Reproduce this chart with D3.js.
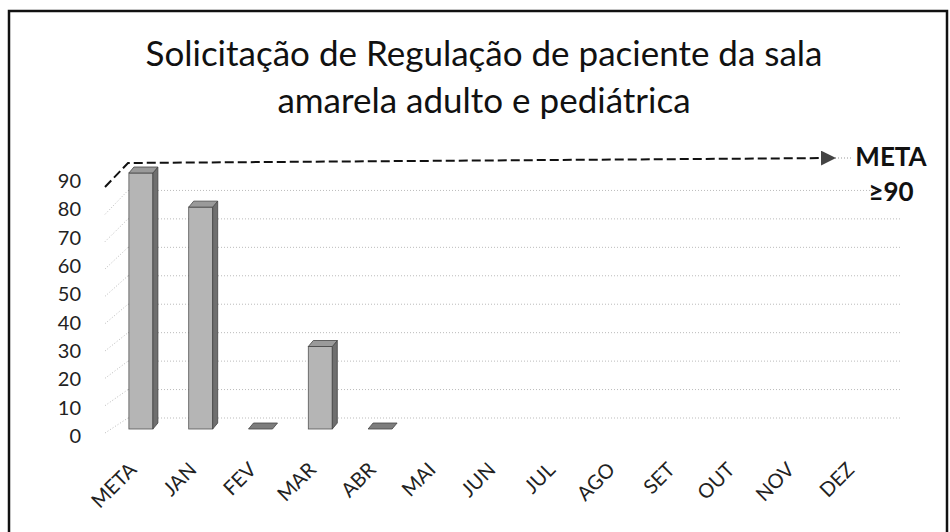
<!DOCTYPE html>
<html>
<head>
<meta charset="utf-8">
<script src="https://cdn.jsdelivr.net/npm/d3@7"></script>
<style>
  body { margin: 0; background: #fff; }
  svg { display: block; font-family: Lato, "Open Sans", sans-serif; }
</style>
</head>
<body>
<svg class="chart" width="950" height="532"></svg>
<script>
// chart data
var titleLines = ["Solicitação de Regulação de paciente da sala", "amarela adulto e pediátrica"];
var months = ["META", "JAN", "FEV", "MAR", "ABR", "MAI", "JUN", "JUL", "AGO", "SET", "OUT", "NOV", "DEZ"];
var values = [90, 78, 0, 29, 0, null, null, null, null, null, null, null, null];
var yTicks = [0, 10, 20, 30, 40, 50, 60, 70, 80, 90];
var metaValue = 90;
var metaLabel = ["META", "≥90"];

var svg = d3.select("svg.chart");

// frame
svg.append("rect")
    .attr("x", 9).attr("y", 11)
    .attr("width", 938).attr("height", 540)
    .attr("fill", "none")
    .attr("stroke", "#111")
    .attr("stroke-width", 2.5);

// title
svg.append("g").selectAll("text")
    .data(titleLines)
    .join("text")
    .attr("x", 484)
    .attr("y", (d, i) => 66 + i * 47)
    .attr("text-anchor", "middle")
    .style("font-size", "35px")
    .style("fill", "#111")
    .text(d => d);

// scales (3d look: front plane, back wall, bars in the middle)
var x = d3.scaleBand().domain(months).range([111, 888.4]).padding(0);
var yBack = d3.scaleLinear().domain([0, 90]).range([418, 162]);
var yFront = d3.scaleLinear().domain([0, 90]).range([433, 187]);
var yBar = d3.scaleLinear().domain([0, 90]).range([429, 173]);
var yLab = d3.scaleLinear().domain([0, 90]).range([436, 181]);

var wallLeft = 128, wallRight = 900, frontX = 105;
var barW = 24, dx = 5, dy = -6;

// back wall gridlines
svg.append("g").selectAll("line")
    .data(yTicks.filter(d => d !== metaValue))
    .join("line")
    .attr("x1", wallLeft).attr("x2", wallRight)
    .attr("y1", d => yBack(d)).attr("y2", d => yBack(d))
    .attr("stroke", "#bbb")
    .attr("stroke-width", 1)
    .style("stroke-dasharray", "1, 2");

// side wall diagonals
svg.append("g").selectAll("line")
    .data(yTicks.filter(d => d !== metaValue))
    .join("line")
    .attr("x1", frontX).attr("y1", d => yFront(d))
    .attr("x2", wallLeft).attr("y2", d => yBack(d))
    .attr("stroke", "#bbb")
    .attr("stroke-width", 1)
    .style("stroke-dasharray", "1, 2");

// y axis labels
var yAxis = svg.append("g")
    .attr("transform", "translate(81,0)")
    .call(d3.axisLeft(yLab).tickValues(yTicks).tickSize(0).tickPadding(0));
yAxis.select(".domain").remove();
yAxis.selectAll("text")
    .style("font-size", "20px")
    .style("font-family", "Lato, 'Open Sans', sans-serif")
    .style("fill", "#222");

// meta line: dashed top edge + arrow
svg.append("defs").append("marker")
    .attr("id", "arrow")
    .attr("viewBox", "0 0 10 10")
    .attr("refX", 10).attr("refY", 5)
    .attr("markerWidth", 15).attr("markerHeight", 15)
    .attr("markerUnits", "userSpaceOnUse")
    .attr("orient", "auto")
    .append("path")
    .attr("d", "M0,0 L10,5 L0,10 Z")
    .attr("fill", "#444");

svg.append("polyline")
    .attr("points", [[frontX, yFront(metaValue)], [wallLeft, yBack(metaValue) + 1], [836, yBack(metaValue) - 4]].join(" "))
    .attr("fill", "none")
    .attr("stroke", "#111")
    .attr("stroke-width", 2)
    .style("stroke-dasharray", "9, 4")
    .attr("marker-end", "url(#arrow)");

svg.append("line")
    .attr("x1", 838).attr("x2", 852)
    .attr("y1", yBack(metaValue) - 4).attr("y2", yBack(metaValue) - 4)
    .attr("stroke", "#999")
    .style("stroke-dasharray", "1, 2");

svg.append("g").selectAll("text")
    .data(metaLabel)
    .join("text")
    .attr("x", 891)
    .attr("y", (d, i) => 166 + i * 35)
    .attr("text-anchor", "middle")
    .style("font-size", "26px")
    .style("font-weight", "bold")
    .style("fill", "#111")
    .text(d => d);

// bars
var barData = months.map((m, i) => ({ m: m, v: values[i] })).filter(d => d.v !== null);
var bars = svg.append("g").selectAll("g")
    .data(barData)
    .join("g")
    .attr("transform", d => "translate(" + (x(d.m) + (x.bandwidth() - barW) / 2) + ",0)");

// front face
bars.filter(d => d.v > 0).append("rect")
    .attr("x", 0)
    .attr("y", d => yBar(d.v))
    .attr("width", barW)
    .attr("height", d => yBar(0) - yBar(d.v))
    .attr("fill", "#b5b5b5")
    .attr("stroke", "#555")
    .attr("stroke-width", 0.8);

// side face
bars.filter(d => d.v > 0).append("path")
    .attr("d", d => "M" + barW + "," + yBar(d.v) + " L" + (barW + dx) + "," + (yBar(d.v) + dy) +
        " L" + (barW + dx) + "," + (yBar(0) + dy) + " L" + barW + "," + yBar(0) + " Z")
    .attr("fill", "#6f6f6f")
    .attr("stroke", "#444")
    .attr("stroke-width", 0.8);

// top face
bars.append("path")
    .attr("d", d => "M0," + yBar(d.v) + " L" + barW + "," + yBar(d.v) +
        " L" + (barW + dx) + "," + (yBar(d.v) + dy) + " L" + dx + "," + (yBar(d.v) + dy) + " Z")
    .attr("fill", d => d.v > 0 ? "#9a9a9a" : "#7d7d7d")
    .attr("stroke", "#444")
    .attr("stroke-width", 0.8);

// x labels
svg.append("g").selectAll("text")
    .data(months)
    .join("text")
    .attr("transform", d => "translate(" + (x(d) + x.bandwidth() / 2 - 3) + ",471) rotate(-45)")
    .attr("text-anchor", "end")
    .style("font-size", "20px")
    .style("fill", "#222")
    .text(d => d);
</script>
</body>
</html>
